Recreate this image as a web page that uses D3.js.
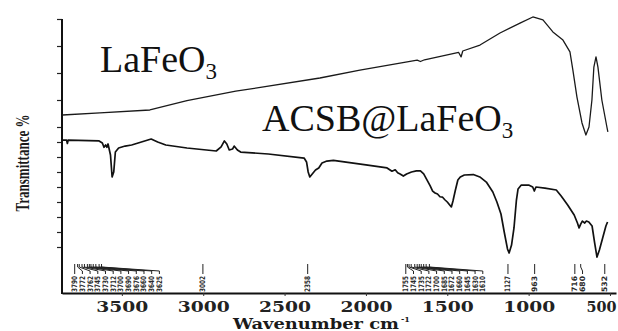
<!DOCTYPE html>
<html>
<head>
<meta charset="utf-8">
<script src="https://cdn.jsdelivr.net/npm/d3@7"></script>
<style>
  body { margin: 0; background: #fff; }
  svg { display: block; }
</style>
</head>
<body>
<div id="chart"></div>
<script>
// FTIR spectra, wavenumber (cm-1) vs transmittance (arbitrary %, offset per trace)
const xTicks = [3500, 3000, 2500, 2000, 1500, 1000, 500];
const upperTicks = [20, 40, 60, 80, 100];
const lowerTicks = [20, 30, 40, 50, 60, 70, 80, 90];

const laWave = [3865, 3635, 3328, 3100, 2800, 2283, 2037, 1685, 1665, 1640, 1430, 1415, 1405, 1299, 1176, 1053, 974, 912, 851, 789, 746, 728, 703, 672, 648, 629, 611, 599, 586, 574, 550, 519, 513];
const laT    = [28.9, 30.4, 32.6, 39.5, 46.5, 56.3, 62.2, 69.6, 68.5, 69.8, 75.2, 71.9, 76.3, 80.7, 89.6, 97.0, 101.5, 99.3, 90.4, 84.4, 75.6, 62.2, 42.2, 23.0, 14.1, 20.0, 40.0, 64.4, 71.9, 64.4, 40.0, 20.0, 16.3];

const acWave = [3862, 3840, 3835, 3830, 3640, 3620, 3610, 3600, 3592, 3585, 3570, 3560, 3550, 3540, 3520, 3480, 3440, 3400, 3340, 3320, 3280, 3230, 3100, 2920, 2890, 2870, 2855, 2840, 2820, 2810, 2790, 2770, 2600, 2380, 2365, 2355, 2345, 2330, 2310, 2290, 2270, 2240, 2200, 2000, 1870, 1840, 1820, 1805, 1790, 1770, 1750, 1720, 1690, 1665, 1645, 1625, 1605, 1590, 1575, 1560, 1545, 1530, 1515, 1500, 1475, 1465, 1450, 1435, 1420, 1395, 1340, 1300, 1260, 1220, 1195, 1170, 1150, 1130, 1120, 1105, 1090, 1075, 1065, 1045, 1000, 975, 965, 955, 900, 830, 800, 760, 720, 700, 690, 680, 670, 655, 645, 630, 610, 595, 580, 565, 545, 525, 515];
const acT    = [91.3, 91.3, 89.0, 91.3, 90.7, 89.3, 86.5, 88.0, 86.5, 88.7, 81.3, 66.7, 70.0, 83.3, 86.0, 87.3, 88.0, 89.3, 91.3, 92.0, 90.0, 88.0, 86.0, 84.0, 86.7, 90.7, 88.7, 84.7, 85.3, 87.3, 84.7, 83.3, 82.0, 79.3, 76.7, 70.0, 66.7, 68.7, 71.3, 72.7, 76.0, 77.3, 77.7, 74.7, 72.7, 70.5, 71.5, 69.5, 68.7, 67.3, 68.7, 70.0, 70.7, 70.7, 68.7, 64.7, 60.7, 57.3, 56.0, 55.3, 53.5, 53.3, 51.5, 50.0, 46.7, 50.7, 58.0, 64.7, 66.7, 68.0, 68.3, 66.7, 63.3, 56.7, 50.0, 42.0, 30.0, 18.7, 16.0, 21.3, 32.7, 51.3, 58.7, 61.3, 61.3, 60.0, 57.3, 60.0, 59.3, 58.0, 54.0, 48.0, 41.3, 36.0, 32.7, 35.3, 37.3, 36.0, 37.3, 36.7, 34.0, 23.3, 13.3, 18.0, 26.0, 34.0, 36.7];

// instrument peak-pick markers
const peaksA = [3790, 3772, 3762, 3745, 3730, 3712, 3700, 3690, 3676, 3660, 3640, 3625];
const peaksB = [3002];
const peaksC = [2358];
const peaksD = [1755, 1745, 1735, 1722, 1700, 1685, 1672, 1660, 1645, 1630, 1610];
const peaksE = [1127];
const peaksF = [963];
const peaksG = [716, 680];
const peaksH = [532];

const W = 618, H = 331;
const svg = d3.select("#chart").append("svg")
    .attr("width", W)
    .attr("height", H)
    .style("background", "#fff");

const x = d3.scaleLinear().domain([3868, 463]).range([62, 616]);
const yU = d3.scaleLinear().domain([20, 100]).range([127, 19]);
const yL = d3.scaleLinear().domain([-10, 100]).range([292, 127]);
const baseY = 293;

// y axis ticks (two stacked scales)
svg.append("g")
    .attr("transform", "translate(62,0)")
    .call(d3.axisLeft(yU).tickValues(upperTicks).tickFormat("").tickSize(5).tickSizeOuter(0))
    .call(g => g.select(".domain").remove())
    .selectAll("line").attr("stroke", "#222").attr("stroke-width", 1.2);
svg.append("g")
    .attr("transform", "translate(62,0)")
    .call(d3.axisLeft(yL).tickValues(lowerTicks).tickFormat("").tickSize(5).tickSizeOuter(0))
    .call(g => g.select(".domain").remove())
    .selectAll("line").attr("stroke", "#222").attr("stroke-width", 1.2);

svg.append("line")
    .attr("x1", 62).attr("x2", 62)
    .attr("y1", yU(100)).attr("y2", baseY + 1)
    .attr("stroke", "#111").attr("stroke-width", 2);

// x axis
const xAxis = svg.append("g")
    .attr("transform", `translate(0,${baseY})`)
    .call(d3.axisBottom(x).tickValues(xTicks).tickFormat(d3.format("d")).tickSize(3).tickSizeOuter(0).tickPadding(5));
xAxis.select(".domain").attr("stroke", "#111").attr("stroke-width", 2);
xAxis.selectAll(".tick line").attr("stroke", "#333");
xAxis.selectAll("text")
    .attr("fill", "#222")
    .attr("dx", d => d === 500 ? -9 : 0)
    .style("font-family", "'DejaVu Serif', serif")
    .style("font-weight", "bold")
    .style("font-size", "15px")
    .attr("textLength", d => String(d).length * (d === 500 ? 10 : 13))
    .attr("lengthAdjust", "spacingAndGlyphs");

// axis titles
svg.append("text")
    .attr("x", 233).attr("y", 329)
    .attr("fill", "#1a1a1a")
    .style("font-family", "'DejaVu Serif', serif")
    .style("font-weight", "bold")
    .style("font-size", "14px")
    .attr("textLength", 166)
    .attr("lengthAdjust", "spacingAndGlyphs")
    .text("Wavenumber cm");
svg.append("text")
    .attr("x", 401).attr("y", 322)
    .attr("fill", "#1a1a1a")
    .style("font-family", "'DejaVu Serif', serif")
    .style("font-weight", "bold")
    .style("font-size", "8px")
    .text("-1");

svg.append("text")
    .attr("transform", "translate(29,163) rotate(-90)")
    .attr("text-anchor", "middle")
    .attr("fill", "#1a1a1a")
    .style("font-family", "'Liberation Serif', serif")
    .style("font-weight", "bold")
    .style("font-size", "18px")
    .attr("textLength", 97)
    .attr("lengthAdjust", "spacingAndGlyphs")
    .text("Transmittance %");

// spectra
const lineU = d3.line().x(d => x(d[0])).y(d => yU(d[1]));
const lineL = d3.line().x(d => x(d[0])).y(d => yL(d[1]));

svg.append("path")
    .datum(d3.zip(laWave, laT))
    .attr("d", lineU)
    .attr("fill", "none")
    .attr("stroke", "#1a1a1a")
    .attr("stroke-width", 1.3)
    .attr("stroke-linejoin", "round");

svg.append("path")
    .datum(d3.zip(acWave, acT))
    .attr("d", lineL)
    .attr("fill", "none")
    .attr("stroke", "#111")
    .attr("stroke-width", 1.7)
    .attr("stroke-linejoin", "round");

// sample labels
const serif = "'Liberation Serif', 'Times New Roman', serif";
const lab1 = svg.append("text")
    .attr("x", 100).attr("y", 72)
    .attr("fill", "#111")
    .style("font-family", serif)
    .style("font-size", "38px");
lab1.append("tspan").text("LaFeO");
lab1.append("tspan").attr("dy", 7).style("font-size", "23px").text("3");

const lab2 = svg.append("text")
    .attr("x", 262).attr("y", 131)
    .attr("fill", "#111")
    .style("font-family", serif)
    .style("font-size", "38px");
lab2.append("tspan").text("ACSB@LaFeO");
lab2.append("tspan").attr("dy", 7).style("font-size", "23px").text("3");

// peak-pick annotations
const peakG = svg.append("g");
[peaksA, peaksB, peaksC, peaksD, peaksE, peaksF, peaksG, peaksH].forEach(group => {
    const x0 = x(group[0]);
    group.forEach((p, i) => {
        const px = x(p);
        const lx = x0 + i * 7.7;
        peakG.append("polyline")
            .attr("points", `${px},264 ${px},267 ${lx},271 ${lx},274`)
            .attr("fill", "none")
            .attr("stroke", "#222")
            .attr("stroke-width", 1);
        peakG.append("text")
            .attr("transform", `translate(${lx + 2.5},292) rotate(-90)`)
            .attr("fill", "#2a2a2a")
            .style("font-family", "'DejaVu Sans', sans-serif")
            .style("font-weight", "bold")
            .style("font-size", "7.5px")
            .attr("textLength", 16)
            .attr("lengthAdjust", "spacingAndGlyphs")
            .text(p.toFixed(0));
    });
});
</script>
</body>
</html>
